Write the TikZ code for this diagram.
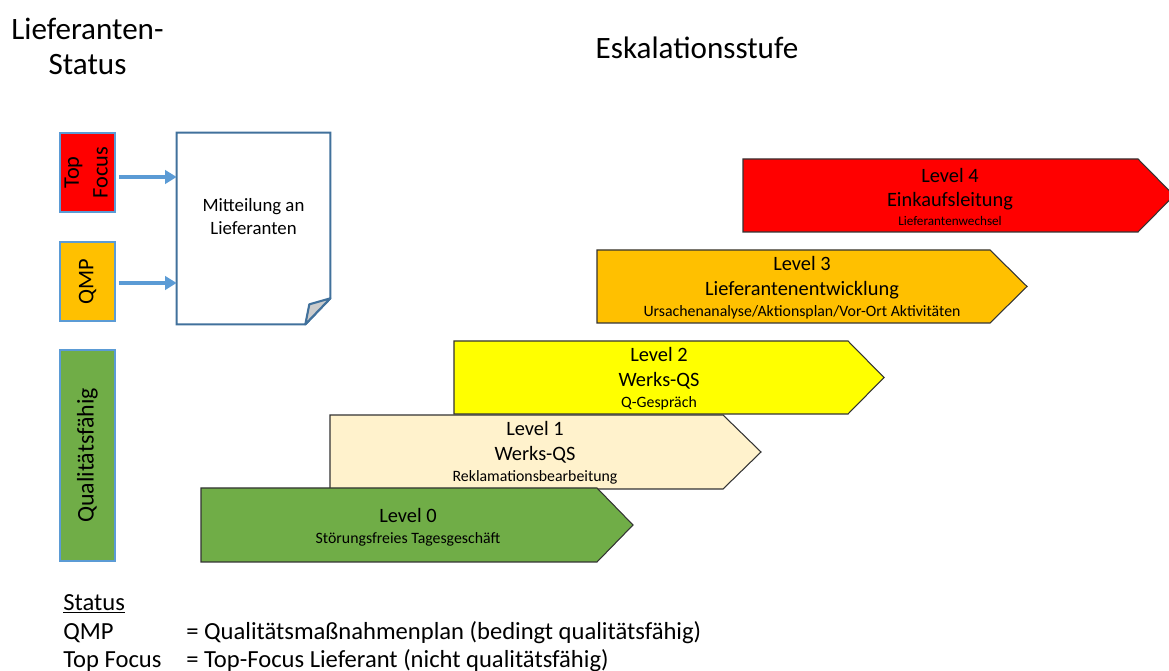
\documentclass[tikz,border=0pt]{standalone}
\usepackage{fontspec}
\setmainfont{Carlito}
\usepackage{graphicx}
\usetikzlibrary{arrows.meta,calc}

\definecolor{tfred}{HTML}{FF0000}
\definecolor{qmporange}{HTML}{FFC000}
\definecolor{lvlyellow}{HTML}{FFFF00}
\definecolor{lvlcream}{HTML}{FFF2CC}
\definecolor{okgreen}{HTML}{70AD47}
\definecolor{boxblue}{HTML}{5B9BD5}
\definecolor{docblue}{HTML}{41719C}

\begin{document}
\begin{tikzpicture}[x=0.02cm, y=-0.02cm, >={Triangle[length=6.5pt,width=7.5pt]},
	status/.style={draw=boxblue, line width=0.9pt, minimum width=1.1cm, inner sep=0pt, font=\fontsize{12.7}{16.4}\selectfont},
	level/.style={draw=black!80, line width=0.6pt},
	lvltext/.style={align=center, font=\fontsize{11.6}{14}\selectfont},
	legend/.style={anchor=base west, inner sep=0pt, font=\fontsize{14}{16}\selectfont},
	flow/.style={->, draw=boxblue, line width=1.8pt}]
		
		\useasboundingbox (0,0) rectangle (1169,671);
		
		% Headings
		\node[align=center, font=\fontsize{17.7}{20}\selectfont] (head) at (87.5,46) {Lieferanten-\\Status};
		\node[font=\fontsize{17.7}{20}\selectfont] (title) at (697,48) {Eskalationsstufe};
		
		% Status boxes
		\node[status, fill=tfred, minimum height=1.58cm] (tf) at (87.5,172.5)
		{\makebox[0pt]{\rotatebox{90}{\begin{tabular}{@{}c@{}}Top\\Focus\end{tabular}}}};
		\node[status, fill=qmporange, minimum height=1.58cm] (qmp) at (87.5,281.5) {\rotatebox{90}{QMP}};
		\node[status, fill=okgreen, minimum height=4.22cm, font=\fontsize{13.6}{16}\selectfont] (qf) at (87.5,455.5)
		{\rotatebox{90}{Qualitätsfähig}};
		
		% Document with folded corner
		\node[minimum width=3.06cm, minimum height=3.82cm, inner sep=0pt] (doc) at (253.5,228.5) {};
		\draw[draw=docblue, line width=1.2pt, fill=white] (doc.north west) -- (doc.north east)
		-- ([yshift=0.52cm]doc.south east) -- ([xshift=-0.5cm]doc.south east) -- (doc.south west) -- cycle;
		\draw[draw=docblue, line width=1.2pt, fill=black!20, line join=round] ([yshift=0.52cm]doc.south east)
		-- ([xshift=-0.42cm,yshift=0.4cm]doc.south east) -- ([xshift=-0.5cm]doc.south east) -- cycle;
		\node[align=center, font=\fontsize{10.7}{13}\selectfont] (msg) at ([yshift=0.24cm]doc.center) {Mitteilung an\\Lieferanten};
		
		% Arrows to the document
		\draw[flow] ($(tf.east)+(3,4.5)$) -- ($(tf.east -| doc.west)+(0,4.5)$);
		\draw[flow] ($(qmp.east)+(3,1.5)$) -- ($(qmp.east -| doc.west)+(0,1.5)$);
		
		% Escalation levels
		\draw[level, fill=tfred] (743,159) -- (1138,159) -- (1174,195.5) -- (1138,232) -- (743,232) -- cycle;
		\node[lvltext] (l4) at (950,197) {Level 4\\Einkaufsleitung\\[-3pt]{\fontsize{7.5}{9}\selectfont Lieferantenwechsel}};
		
		\draw[level, fill=qmporange] (597,250) -- (990,250) -- (1027,286.5) -- (990,323) -- (597,323) -- cycle;
		\node[lvltext] (l3) at (802,288) {Level 3\\Lieferantenentwicklung\\[-2pt]{\fontsize{9}{11}\selectfont Ursachenanalyse/Aktionsplan/Vor-Ort Aktivitäten}};
		
		\draw[level, fill=lvlyellow] (454,341) -- (848,341) -- (884,377.5) -- (848,414) -- (454,414) -- cycle;
		\node[lvltext] (l2) at (659,379) {Level 2\\Werks-QS\\[-2pt]{\fontsize{9}{11}\selectfont Q-Gespräch}};
		
		\draw[level, fill=lvlcream] (330,415) -- (723,415) -- (761,452) -- (723,489) -- (330,489) -- cycle;
		\node[lvltext] (l1) at (535,453) {Level 1\\Werks-QS\\[-2pt]{\fontsize{9}{11}\selectfont Reklamationsbearbeitung}};
		
		\draw[level, fill=okgreen] (201,488) -- (597,488) -- (633,525) -- (597,562) -- (201,562) -- cycle;
		\node[lvltext] (l0) at (408,527) {Level 0\\[-2pt]{\fontsize{9}{11}\selectfont Störungsfreies Tagesgeschäft}};
		
		% Legend
		\node[legend] (lgst) at (63,610) {\underline{Status}};
		\node[legend] (lgqmp) at (63,639) {QMP};
		\node[legend] (lgqmpdef) at (186,639) {= Qualitätsmaßnahmenplan (bedingt qualitätsfähig)};
		\node[legend] (lgtf) at (63,667) {Top Focus};
		\node[legend] (lgtfdef) at (186,667) {= Top-Focus Lieferant (nicht qualitätsfähig)};
		
	\end{tikzpicture}
\end{document}
